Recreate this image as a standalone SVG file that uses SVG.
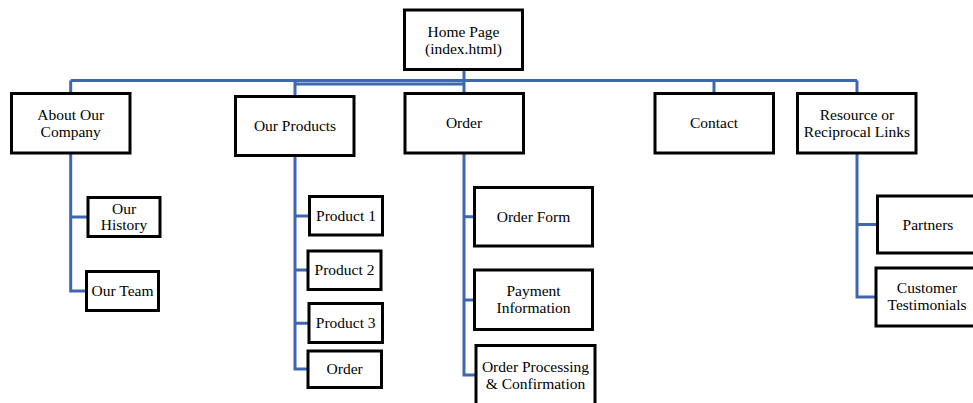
<svg xmlns="http://www.w3.org/2000/svg" width="973" height="403" viewBox="0 0 973 403" font-family="'Liberation Serif', 'Times New Roman', 'DejaVu Serif', serif">
<style>
.box{fill:#fff;stroke:#000;stroke-width:3}
.c{fill:none;stroke:#3F67B0;stroke-width:3}
text{font-family:'Liberation Serif','Times New Roman','DejaVu Serif',serif;font-size:15.5px;fill:#000;text-anchor:middle}
</style>
<rect width="973" height="403" fill="#fff"/>
<g id="connectors" class="c">
<path d="M464 69V93.5"/>
<path d="M70.7 80.5H857"/>
<path d="M295 84H464"/>
<path d="M70.7 80.5V93.5M295 80.5V96.5M714 80.5V93.5M857 80.5V93.5"/>
<path d="M70.7 153V291H86.5M70.7 217H88"/>
<path d="M295 155.5V369H308M295 216H309.5M295 270H308M295 323.3H309"/>
<path d="M464 153V375H476M464 216.7H474.5M464 300H474.5"/>
<path d="M857 153V297H876M857 224.5H877.5"/>
</g>
<g id="home"><rect class="box" x="404.5" y="10" width="118" height="59.5"/><text x="463.5" y="36.5">Home Page</text><text x="463.5" y="53.5">(index.html)</text></g>
<g id="about"><rect class="box" x="11.5" y="93.5" width="118.5" height="59.5"/><text x="70.7" y="120">About Our</text><text x="70.7" y="136.5">Company</text></g>
<g id="products"><rect class="box" x="235.5" y="96.5" width="118.5" height="59"/><text x="295" y="131">Our Products</text></g>
<g id="order"><rect class="box" x="405" y="93.5" width="118.5" height="59.5"/><text x="464" y="128.3">Order</text></g>
<g id="contact"><rect class="box" x="655" y="93.5" width="118.5" height="59.5"/><text x="714" y="128.3">Contact</text></g>
<g id="resource"><rect class="box" x="797.5" y="93.5" width="118.5" height="59.5"/><text x="857" y="120">Resource or</text><text x="857" y="136.5">Reciprocal Links</text></g>
<g id="history"><rect class="box" x="88" y="197.5" width="72" height="39"/><text x="124" y="213.5">Our</text><text x="124" y="230">History</text></g>
<g id="team"><rect class="box" x="86.5" y="271.5" width="72" height="39"/><text x="122.5" y="296">Our Team</text></g>
<g id="product1"><rect class="box" x="309.5" y="196.5" width="73" height="38.5"/><text x="346" y="221">Product 1</text></g>
<g id="product2"><rect class="box" x="308" y="251" width="73" height="38.5"/><text x="344.5" y="275">Product 2</text></g>
<g id="product3"><rect class="box" x="309" y="303.5" width="73.5" height="39"/><text x="345.7" y="328.3">Product 3</text></g>
<g id="product-order"><rect class="box" x="308" y="351" width="73.5" height="36.5"/><text x="344.7" y="374.2">Order</text></g>
<g id="order-form"><rect class="box" x="474.5" y="187.5" width="118" height="58.5"/><text x="533.5" y="221.7">Order Form</text></g>
<g id="payment"><rect class="box" x="474.5" y="270" width="118" height="59.5"/><text x="533.5" y="296.3">Payment</text><text x="533.5" y="313">Information</text></g>
<g id="processing"><rect class="box" x="476" y="345.5" width="119" height="62"/><text x="535.5" y="372">Order Processing</text><text x="535.5" y="388.5">&amp; Confirmation</text></g>
<g id="partners"><rect class="box" x="877.5" y="196" width="110" height="57"/><text x="928" y="229.6">Partners</text></g>
<g id="testimonials"><rect class="box" x="876" y="268" width="110" height="58"/><text x="927" y="293.3">Customer</text><text x="927" y="309.5">Testimonials</text></g>
</svg>
